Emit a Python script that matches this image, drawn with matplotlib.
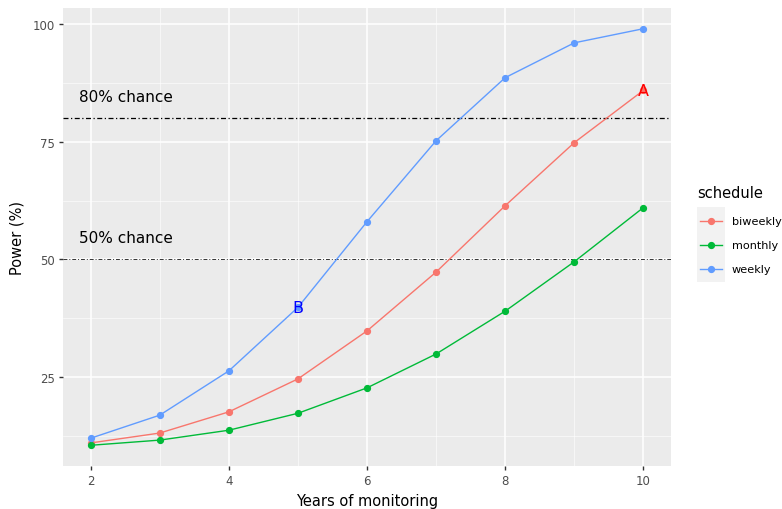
import numpy as np
import matplotlib.pyplot as plt
from matplotlib.patches import Rectangle
from matplotlib.lines import Line2D

years = [2, 3, 4, 5, 6, 7, 8, 9, 10]
biweekly = [11.0, 13.1, 17.6, 24.6, 34.8, 47.3, 61.4, 74.8, 85.9]
monthly = [10.5, 11.6, 13.7, 17.3, 22.7, 29.9, 39.0, 49.5, 61.0]
weekly = [12.0, 16.9, 26.3, 39.8, 58.0, 75.2, 88.6, 96.0, 99.0]
schedules = ["biweekly", "monthly", "weekly"]
colors = ["#F8766D", "#00BA38", "#619CFF"]

W, H = 782, 510
fig = plt.figure(figsize=(W / 100, H / 100), dpi=100)
fig.patch.set_facecolor("white")
ax = fig.add_axes([63 / W, (H - 467) / H, 608 / W, 458 / H])
ax.set_facecolor("#EBEBEB")

ax.set_xlim(1.6, 10.4)
ax.set_ylim(6.1, 103.4)
ax.set_xticks([2, 4, 6, 8, 10])
ax.set_yticks([25, 50, 75, 100])
ax.set_xticks([3, 5, 7, 9], minor=True)
ax.set_yticks([12.5, 37.5, 62.5, 87.5], minor=True)
ax.grid(which="major", color="white", lw=1.1)
ax.grid(which="minor", color="white", lw=0.5, alpha=0.8)
ax.set_axisbelow(True)
for s in ax.spines.values():
    s.set_visible(False)
ax.tick_params(which="major", length=3, width=1, color="#333333",
               labelcolor="#4D4D4D", labelsize=8.5, pad=3)
ax.tick_params(which="minor", length=0)

# reference lines
ax.axhline(80, color="black", lw=0.9, ls=(0, (4, 2, 1, 2)))
ax.axhline(50, color="#333333", lw=0.7, ls=(0, (4, 2, 1, 2)))
ax.text(2.51, 84.7, "80% chance", ha="center", va="center", fontsize=11)
ax.text(2.51, 54.7, "50% chance", ha="center", va="center", fontsize=11)

for name, vals, c in zip(schedules, [biweekly, monthly, weekly], colors):
    ax.plot(years, vals, color=c, lw=1.0, marker="o", ms=4.2, label=name)

ax.text(10, biweekly[-1], "A", color="red", ha="center", va="center", fontsize=11.5)
ax.text(5, weekly[3], "B", color="blue", ha="center", va="center", fontsize=11.5)

ax.set_xlabel("Years of monitoring", fontsize=10.5, labelpad=4)
ax.set_ylabel("Power (%)", fontsize=10.5, labelpad=6)

# legend
fig.text(697 / W, 1 - 193 / H, "schedule", fontsize=10.5, va="center", ha="left")
fig.patches.append(Rectangle((697 / W, 1 - 283 / H), 28 / W, 75 / H,
                             transform=fig.transFigure, facecolor="#F2F2F2",
                             edgecolor="none", zorder=0))
for i, (name, c) in enumerate(zip(schedules, colors)):
    yk = 1 - (222 + 24 * i) / H
    fig.add_artist(Line2D([700 / W, 722 / W], [yk, yk], color=c, lw=1.0,
                          transform=fig.transFigure))
    fig.add_artist(Line2D([711 / W], [yk], color=c, marker="o", ms=4.2,
                          transform=fig.transFigure))
    fig.text(732 / W, yk, name, fontsize=8.1, va="center", ha="left")

fig.savefig("out.png", dpi=100)
